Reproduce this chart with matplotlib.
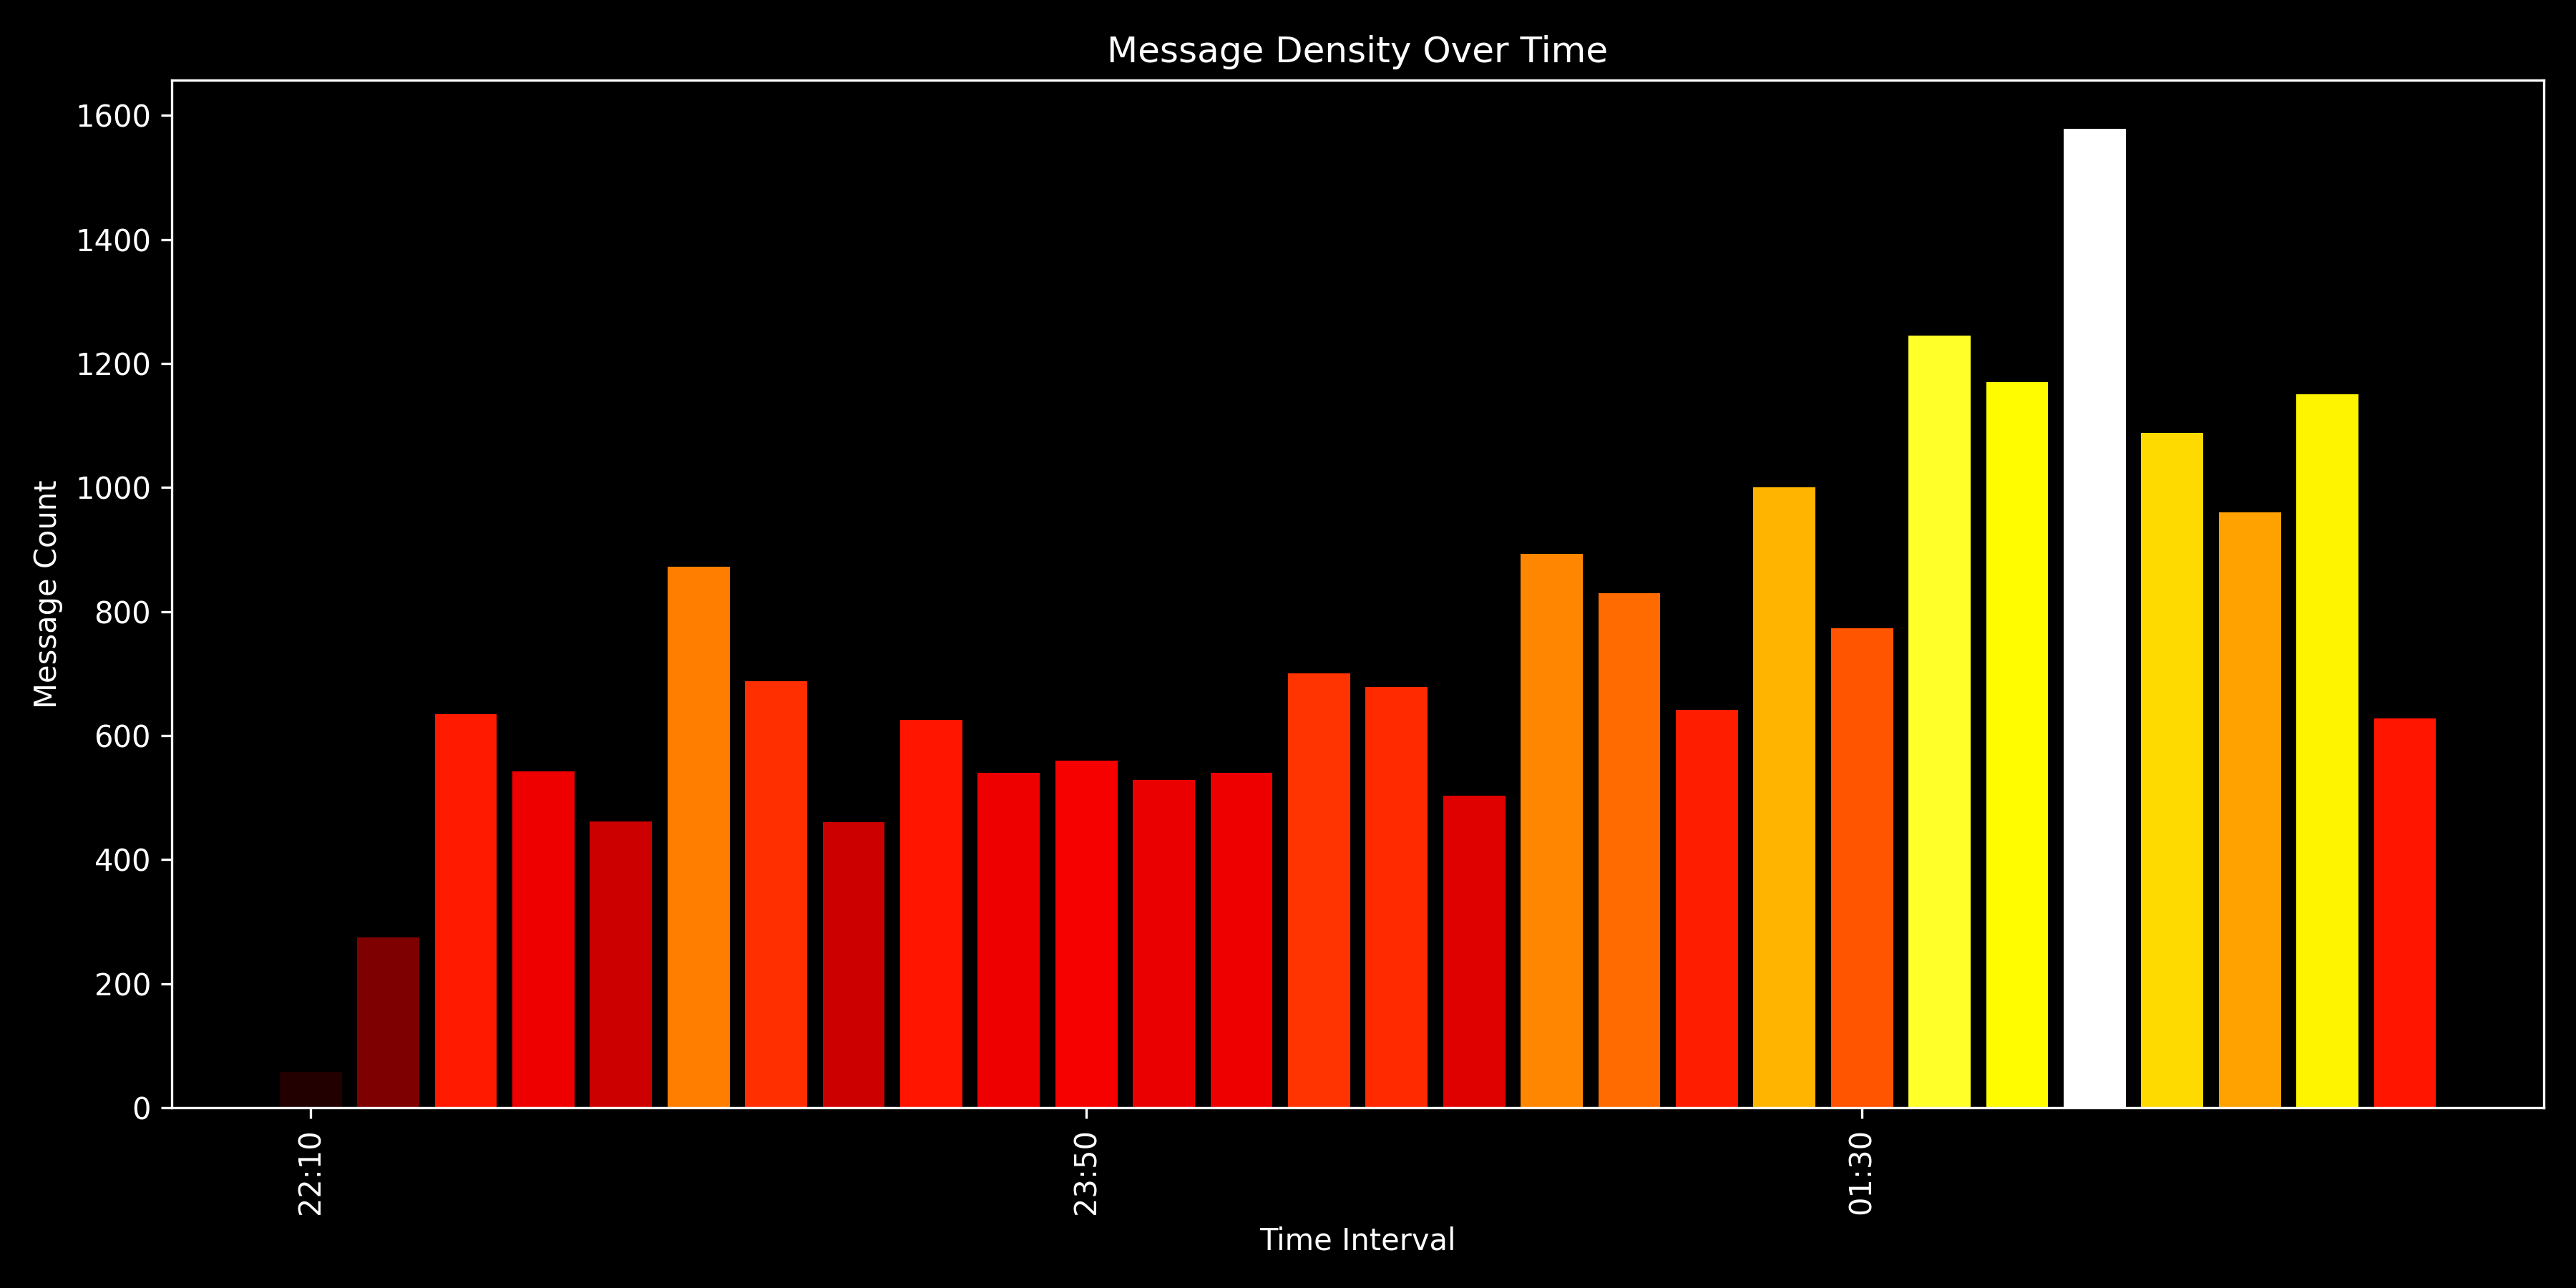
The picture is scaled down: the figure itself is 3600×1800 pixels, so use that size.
import matplotlib
matplotlib.use("Agg")
import matplotlib.pyplot as plt
from matplotlib import cm, colors

# Message counts per 10-minute interval
counts = [58, 275, 635, 542, 462, 872, 688, 460, 625, 540,
          560, 528, 540, 700, 678, 503, 893, 830, 642, 1000,
          773, 1245, 1170, 1578, 1088, 960, 1150, 628]
tick_labels = ["22:10", "23:50", "01:30"]
tick_index = [0, 10, 20]

plt.style.use('dark_background')
fig, ax = plt.subplots(figsize=(12, 6), dpi=300)

norm = colors.Normalize(vmin=0, vmax=max(counts))
bar_colors = cm.hot(norm(counts))

x = list(range(len(counts)))
ax.bar(x, counts, color=bar_colors, width=0.8)

ax.set_xticks(tick_index)
ax.set_xticklabels(tick_labels, rotation=90)
ax.set_xlabel('Time Interval')
ax.set_ylabel('Message Count')
ax.set_title('Message Density Over Time')

fig.subplots_adjust(left=0.0667, right=0.9875, bottom=0.14, top=0.9378)
plt.savefig('out.png', dpi=300)
